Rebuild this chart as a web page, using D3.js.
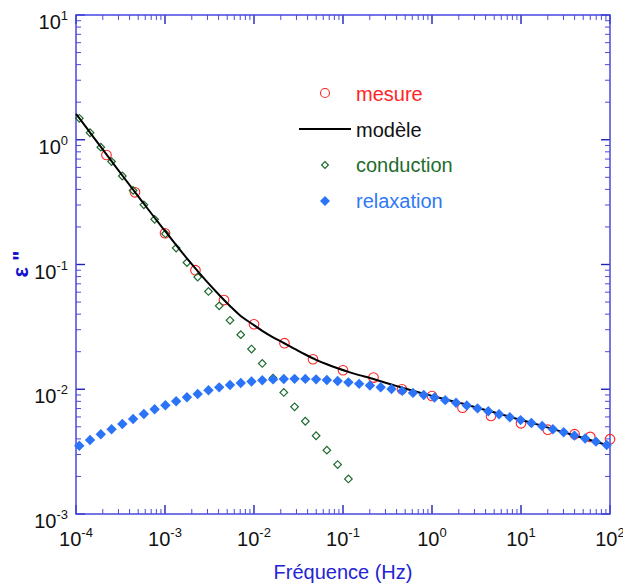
<!DOCTYPE html>
<html><head><meta charset="utf-8">
<script src="https://cdn.jsdelivr.net/npm/d3@7"></script>
<style>body{margin:0;background:#fff}svg{display:block}text{font-family:"Liberation Sans",Arial,sans-serif}</style>
</head><body>
<script>
// ---- data ----
const freqGrid = [1.089e-4,1.438e-4,1.900e-4,2.510e-4,3.316e-4,4.381e-4,5.789e-4,7.648e-4,1.0104e-3,1.335e-3,
  1.764e-3,2.330e-3,3.079e-3,4.067e-3,5.374e-3,7.100e-3,9.376e-3,1.2388e-2,1.637e-2,2.162e-2,
  2.857e-2,3.774e-2,4.986e-2,6.587e-2,8.703e-2,0.1150,0.1519,0.2007,0.2651,0.3502,
  0.4627,0.6112,0.8075,1.067,1.409,1.862,2.459,3.249,4.292,5.671,
  7.492,9.897,13.08,17.28,22.82,30.15,39.83,52.63,69.53,91.83];
const conduction = [1.486,1.138,0.872,0.668,0.512,0.3925,0.3007,0.2304,0.1765,0.1353,
  0.1036,0.0794,0.0608,0.0466,0.0357,0.0274,0.0210,0.0161,0.0123,0.00943,
  0.00723,0.00554,0.00424,0.00325,0.00249,0.00191];
const relaxation = [0.003528,0.003919,0.004353,0.004775,0.005265,0.005774,0.006331,0.006909,0.007433,0.008005,
  0.008618,0.009161,0.009808,0.01036,0.01082,0.01122,0.01154,0.01180,0.01199,0.01208,
  0.01212,0.01210,0.01201,0.01186,0.01164,0.01136,0.01105,0.01072,0.01038,0.01005,
  0.00970,0.00935,0.00899,0.00859,0.00818,0.00780,0.00741,0.00702,0.00667,0.00631,
  0.00597,0.00566,0.00536,0.00507,0.00478,0.00452,0.00425,0.00403,0.00380,0.00357];
const modelFreq = [1e-4].concat(freqGrid, [100]);
const model = [1.613,
  1.490,1.142,0.876,0.673,0.517,0.398,0.307,0.237,0.184,0.143,
  0.112,0.0886,0.0706,0.0570,0.0465,0.0386,0.03365,0.02941,0.02609,0.02348,
  0.02110,0.01899,0.01722,0.01585,0.01472,0.01377,0.01298,0.01229,0.01158,0.01092,
  0.01029,0.00972,0.00921,0.00875,0.00831,0.00790,0.00751,0.00710,0.00673,0.00636,
  0.00601,0.00569,0.00538,0.00509,0.00479,0.00452,0.00426,0.00403,0.00380,0.00357,
  0.00350];
const mesureFreq = [2.2e-4,4.6e-4,1e-3,2.2e-3,4.6e-3,0.01,0.022,0.046,0.1,0.22,0.46,1,2.2,4.6,10,20,40,60,100];
const mesure = [0.755,0.379,0.178,0.090,0.0519,0.0332,0.0234,0.0174,0.0142,0.0124,0.0100,0.00883,0.00711,0.00611,0.00533,0.00474,0.00436,0.00415,0.00398];
const xTickExps = [-4,-3,-2,-1,0,1,2];
const yTickExps = [-3,-2,-1,0,1];
const legendLabels = ["mesure","modèle","conduction","relaxation"];
const xTitle = "Fréquence (Hz)";
const yTitle = "ε \"";

// ---- layout ----
const W = 623, H = 585;
const L = 76, R = 610, T = 15, B = 514;
const col = {red:"#ff2424", green:"#1f6b2e", blue:"#2b74f8", blueText:"#3079f5", axis:"#4848e2", tickMaj:"#2020b8", tickMin:"#4a4ad8", title:"#2424d4"};

const svg = d3.select("body").append("svg").attr("width", W).attr("height", H);
const x = d3.scaleLog().domain([1e-4, 1e2]).range([L, R]);
const y = d3.scaleLog().domain([1e-3, 1e1]).range([B, T]);

const isMajor = v => Math.abs(Math.log10(v) - Math.round(Math.log10(v))) < 1e-9;
const xAll = x.ticks(), yAll = y.ticks();
const xMin = xAll.filter(v => !isMajor(v)), yMin = yAll.filter(v => !isMajor(v));
const xMaj = xTickExps.map(e => Math.pow(10, e)), yMaj = yTickExps.map(e => Math.pow(10, e));

const ticks = svg.append("g");
function hTicks(vals, len, color, w) {
  [B, T].forEach((yy, i) => {
    ticks.selectAll(null).data(vals).enter().append("line")
      .attr("x1", d => x(d)).attr("x2", d => x(d))
      .attr("y1", yy).attr("y2", i === 0 ? yy - len : yy + len)
      .attr("stroke", color).attr("stroke-width", w);
  });
}
function vTicks(vals, len, color, w) {
  [L, R].forEach((xx, i) => {
    ticks.selectAll(null).data(vals).enter().append("line")
      .attr("y1", d => y(d)).attr("y2", d => y(d))
      .attr("x1", xx).attr("x2", i === 0 ? xx + len : xx - len)
      .attr("stroke", color).attr("stroke-width", w);
  });
}
hTicks(xMin, 5, col.tickMin, 1); hTicks(xMaj, 9, col.tickMaj, 1.4);
vTicks(yMin, 5, col.tickMin, 1); vTicks(yMaj, 9, col.tickMaj, 1.4);

svg.append("rect").attr("x", L).attr("y", T).attr("width", R - L).attr("height", B - T)
  .attr("fill", "none").attr("stroke", col.axis).attr("stroke-width", 1.5);

// tick labels
const xl = svg.append("g").selectAll("text").data(xTickExps).enter().append("text")
  .attr("x", d => x(Math.pow(10, d))).attr("y", 546).attr("text-anchor", "middle")
  .attr("font-size", 20).attr("fill", "#111");
xl.append("tspan").text("10");
xl.append("tspan").attr("dy", -9).attr("font-size", 13).text(d => String(d));

const yl = svg.append("g").selectAll("text").data(yTickExps).enter().append("text")
  .attr("x", 68).attr("y", d => y(Math.pow(10, d)) + 14).attr("text-anchor", "end")
  .attr("font-size", 20).attr("fill", "#111");
yl.append("tspan").text("10");
yl.append("tspan").attr("dy", -9).attr("font-size", 13).text(d => String(d));

// titles
svg.append("text").attr("x", (L + R) / 2).attr("y", 579).attr("text-anchor", "middle")
  .attr("font-size", 20).attr("fill", col.title).text(xTitle);
svg.append("text").attr("transform", "translate(28,264) rotate(-90)").attr("text-anchor", "middle")
  .attr("font-size", 22).attr("font-weight", "bold").attr("fill", "#1212cc").text(yTitle);

// ---- marks ----
const plot = svg.append("g");
const diamond = (half) => d3.symbol().type(d3.symbolSquare).size(2 * half * half)();

plot.selectAll("circle.m").data(mesureFreq).enter().append("circle")
  .attr("cx", d => x(d)).attr("cy", (d, i) => y(mesure[i])).attr("r", 4.8)
  .attr("fill", "none").attr("stroke", col.red).attr("stroke-width", 1.1);

plot.selectAll("path.c").data(conduction).enter().append("path")
  .attr("d", diamond(3.8))
  .attr("transform", (d, i) => `translate(${x(freqGrid[i])},${y(d)}) rotate(45)`)
  .attr("fill", "none").attr("stroke", col.green).attr("stroke-width", 1.2);

const line = d3.line().x((d, i) => x(modelFreq[i])).y(d => y(d)).curve(d3.curveMonotoneX);
plot.append("path").datum(model).attr("d", line).attr("fill", "none")
  .attr("stroke", "#000").attr("stroke-width", 2);

plot.selectAll("path.r").data(relaxation).enter().append("path")
  .attr("d", diamond(5.2))
  .attr("transform", (d, i) => `translate(${x(freqGrid[i])},${y(d)}) rotate(45)`)
  .attr("fill", col.blue);

// ---- legend ----
const lg = svg.append("g");
const ly = [101, 136.5, 172, 207.5];
const lc = [col.red, "#111", col.green, col.blueText];
lg.selectAll("text").data(legendLabels).enter().append("text")
  .attr("x", 356).attr("y", (d, i) => ly[i]).attr("font-size", 20)
  .attr("fill", (d, i) => lc[i]).text(d => d);
lg.append("circle").attr("cx", 325).attr("cy", 93).attr("r", 4.5)
  .attr("fill", "none").attr("stroke", col.red).attr("stroke-width", 1.1);
lg.append("line").attr("x1", 299).attr("x2", 351).attr("y1", 129).attr("y2", 129)
  .attr("stroke", "#000").attr("stroke-width", 2);
lg.append("path").attr("d", diamond(3.4)).attr("transform", "translate(325,165) rotate(45)")
  .attr("fill", "none").attr("stroke", col.green).attr("stroke-width", 1.2);
lg.append("path").attr("d", diamond(5)).attr("transform", "translate(325,201) rotate(45)")
  .attr("fill", col.blue);
</script>
</body></html>
